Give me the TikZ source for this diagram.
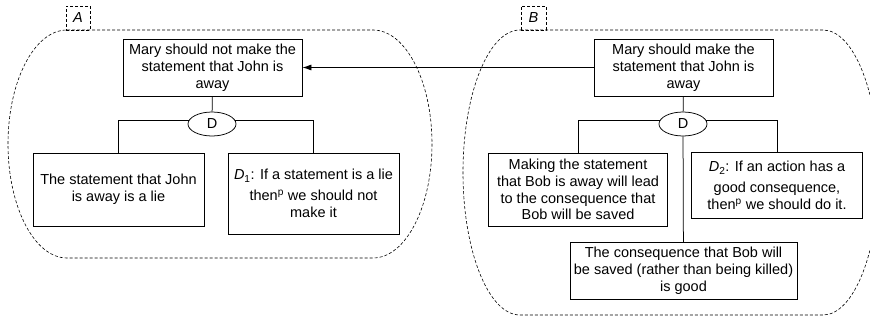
\documentclass[tikz,border=0pt]{standalone}
\usepackage{fontspec}
\setmainfont{Liberation Sans}
\usetikzlibrary{shapes.geometric,arrows.meta}

\tikzset{every picture/.style={line width=0.75pt}}
\tikzset{
  argbox/.style={draw, align=center, inner sep=0pt, font=\fontsize{14.5}{16.8}\selectfont},
  dnode/.style={draw, ellipse, inner sep=0pt, minimum width=48pt, minimum height=24pt, font=\fontsize{14.5}{16.8}\selectfont},
  tagbox/.style={draw, dash pattern=on 3pt off 2pt, inner sep=0pt, minimum height=24pt, font=\fontsize{14.5}{16.8}\selectfont\itshape},
  region/.style={dash pattern=on 3pt off 2pt, line width=0.6pt}
}

\begin{document}
\begin{tikzpicture}[x=1pt,y=1pt,yscale=-1,xscale=1]
\useasboundingbox (0,0) rectangle (870,321);

% Regions
\draw [region] (67,30) -- (373,30) arc [start angle=-90, end angle=90, x radius=59, y radius=114] -- (67,258) arc [start angle=90, end angle=270, x radius=59, y radius=114] -- cycle;
\begin{scope}
\clip (0,0) rectangle (870,321);
\draw [region] (520,30) -- (823,30) arc [start angle=-90, end angle=90, x radius=56, y radius=142.5] -- (520,315) arc [start angle=90, end angle=270, x radius=57, y radius=142.5] -- cycle;
\end{scope}

% Text Node
\node [tagbox, minimum width=24pt] (tagA) at (78,18) {A};
% Text Node
\node [tagbox, minimum width=25pt] (tagB) at (533.5,18) {B};

% Text Node
\node [argbox, minimum width=179pt, minimum height=57pt] (topA) at (212.5,67.5) {Mary should not make the\\statement that John is\\away};
% Text Node
\node [dnode] (dA) at (212,124) {D};
% Text Node
\node [argbox, minimum width=171pt, minimum height=73pt] (lieA) at (118.5,189.5) {The statement that John\\is away is a lie};
% Text Node
\node [argbox, minimum width=171pt, minimum height=81pt] (ruleA) at (313.5,193.5) {\textit{D}\textsubscript{1}: If a statement is a lie\\[4pt]then\textsuperscript{p} we should not\\make it};

% Text Node
\node [argbox, minimum width=179pt, minimum height=57pt] (topB) at (683.5,67.5) {Mary should make the\\statement that John is\\away};
% Text Node
\node [dnode] (dB) at (683,124) {D};
% Text Node
\node [argbox, minimum width=178.5pt, minimum height=73pt] (leadB) at (578,189.5) {Making the statement\\that Bob is away will lead\\to the consequence that\\Bob will be saved};
% Text Node
\node [argbox, minimum width=170.5pt, minimum height=65.5pt] (ruleB) at (777,185.5) {\textit{D}\textsubscript{2}: If an action has a\\[4pt]good consequence,\\then\textsuperscript{p} we should do it.};
% Text Node
\node [argbox, minimum width=227pt, minimum height=56.5pt] (goodB) at (683.5,271) {The consequence that Bob will\\be saved (rather than being killed)\\is good};

% Straight Lines
\draw (topA) -- (dA);
\draw (dA.170) -| (lieA);
\draw (dA.10) -| (ruleA);
\draw (topB) -- (dB);
\draw (dB.170) -| (leadB);
\draw (dB.10) -| (ruleB);
\draw (dB) -- (goodB);
\draw [-{Latex[length=9pt,width=6pt]}] (topB) -- (topA);

\end{tikzpicture}
\end{document}
